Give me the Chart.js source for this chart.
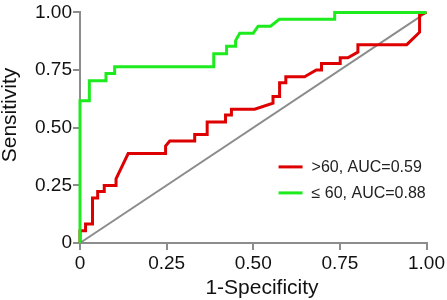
<!DOCTYPE html>
<html>
<head>
<meta charset="utf-8">
<script src="https://cdn.jsdelivr.net/npm/chart.js@4.4.1/dist/chart.umd.min.js"></script>
<style>
  html, body { margin: 0; padding: 0; background: #fff; }
  #wrap { width: 447px; height: 300px; }
</style>
</head>
<body>
<div id="wrap"><canvas id="roc" width="447" height="300"></canvas></div>
<script>
// ROC-curve >60 (rood)
const roodFpr  = [0, 0, 0.016, 0.016, 0.036, 0.036, 0.051, 0.051, 0.07, 0.07, 0.104, 0.104, 0.139, 0.247, 0.247, 0.259, 0.331, 0.331, 0.367, 0.367, 0.42, 0.42, 0.437, 0.437, 0.504, 0.557, 0.557, 0.576, 0.576, 0.594, 0.594, 0.648, 0.682, 0.697, 0.697, 0.751, 0.751, 0.773, 0.802, 0.802, 0.943, 0.98, 0.98, 1];
const roodSens = [0, 0.053, 0.053, 0.082, 0.082, 0.195, 0.195, 0.223, 0.223, 0.249, 0.249, 0.278, 0.388, 0.388, 0.42, 0.442, 0.442, 0.47, 0.47, 0.525, 0.525, 0.555, 0.555, 0.58, 0.58, 0.606, 0.635, 0.635, 0.695, 0.695, 0.721, 0.721, 0.75, 0.75, 0.778, 0.778, 0.803, 0.803, 0.828, 0.86, 0.86, 0.914, 0.99, 1];

// ROC-curve <=60 (groen)
const groenFpr  = [0, 0, 0.027, 0.027, 0.075, 0.075, 0.10, 0.10, 0.386, 0.386, 0.423, 0.423, 0.449, 0.449, 0.461, 0.50, 0.514, 0.55, 0.575, 0.735, 0.735, 1];
const groenSens = [0, 0.617, 0.617, 0.704, 0.704, 0.735, 0.735, 0.764, 0.764, 0.821, 0.821, 0.853, 0.853, 0.878, 0.91, 0.91, 0.94, 0.94, 0.97, 0.97, 1, 1];

// referentielijn
const refFpr  = [0, 1];
const refSens = [0, 1];

const labels = [">60, AUC=0.59", "\u2264 60, AUC=0.88"];
const tickWaarden = [0, 0.25, 0.5, 0.75, 1];
const tickLabels = ["0", "0.25", "0.50", "0.75", "1.00"];
const xTitel = "1-Specificity";
const yTitel = "Sensitivity";

const grijs = "#8c8c8c";
const rood = "rgb(222,0,0)";
const groen = "rgb(30,235,30)";
const lettertype = "'Liberation Sans', Arial, sans-serif";

function punten(xs, ys) {
    return xs.map((x, i) => ({ x: x, y: ys[i] }));
}

// eigen legende en astitels
const legendePlugin = {
    id: 'legende',
    afterDatasetsDraw(chart) {
        const ctx = chart.ctx;
        const a = chart.chartArea;
        const items = [
            { tekst: labels[0], kleur: rood },
            { tekst: labels[1], kleur: groen }
        ];
        const x0 = a.left + 0.573 * (a.right - a.left);
        let y = a.top + 0.67 * (a.bottom - a.top);
        ctx.save();
        ctx.font = "16px " + lettertype;
        ctx.textBaseline = 'middle';
        items.forEach(it => {
            ctx.strokeStyle = it.kleur;
            ctx.lineWidth = 3;
            ctx.beginPath();
            ctx.moveTo(x0, y);
            ctx.lineTo(x0 + 24, y);
            ctx.stroke();
            ctx.fillStyle = "#222";
            ctx.fillText(it.tekst, x0 + 33, y + 1);
            y += 26;
        });

        // astitels
        ctx.font = "21px " + lettertype;
        ctx.fillStyle = "#111";
        ctx.textAlign = 'center';
        ctx.fillText(xTitel, 262, 288);
        ctx.translate(10, 115);
        ctx.rotate(-Math.PI / 2);
        ctx.fillText(yTitel, 0, 0);
        ctx.restore();
    }
};

const asOpties = (isY) => ({
    type: 'linear',
    min: 0,
    max: 1,
    afterBuildTicks: s => { s.ticks = tickWaarden.map(v => ({ value: v })); },
    afterFit: s => { if (isY) s.width = 80; else s.height = 57; },
    ticks: {
        color: "#111",
        font: { family: lettertype, size: 19 },
        padding: isY ? 1 : 2,
        callback: (v) => tickLabels[tickWaarden.indexOf(v)]
    },
    grid: {
        display: true,
        drawOnChartArea: false,
        drawTicks: true,
        tickLength: 7,
        color: grijs,
        lineWidth: 2
    },
    border: { display: true, color: grijs, width: 2 },
    title: { display: false }
});

new Chart(document.getElementById('roc').getContext('2d'), {
    type: 'scatter',
    data: {
        datasets: [
            { label: labels[1], data: punten(groenFpr, groenSens), borderColor: groen, borderWidth: 3, showLine: true, pointRadius: 0, order: 0, clip: 5 },
            { label: labels[0], data: punten(roodFpr, roodSens), borderColor: rood, borderWidth: 3, showLine: true, pointRadius: 0, order: 1, clip: 5 },
            { label: 'ref', data: punten(refFpr, refSens), borderColor: grijs, borderWidth: 2, showLine: true, pointRadius: 0, order: 2, clip: 5 }
        ]
    },
    options: {
        responsive: false,
        animation: false,
        layout: { padding: { top: 10, right: 20, left: 0, bottom: 0 } },
        plugins: { legend: { display: false }, tooltip: { enabled: false } },
        scales: {
            x: asOpties(false),
            y: asOpties(true)
        }
    },
    plugins: [legendePlugin]
});
</script>
</body>
</html>
